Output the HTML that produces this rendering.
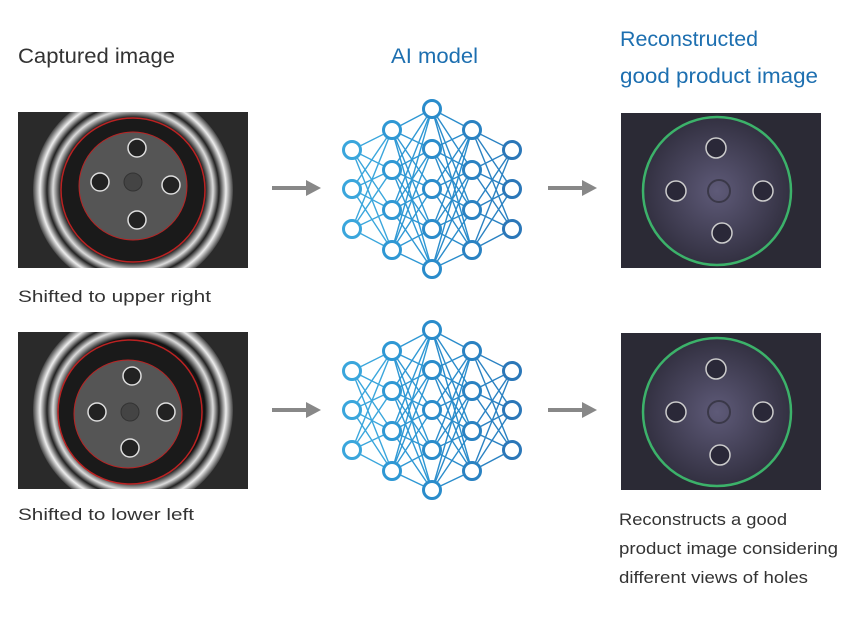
<!DOCTYPE html>
<html><head><meta charset="utf-8"><style>
html,body{margin:0;padding:0;background:#fff;width:866px;height:626px;overflow:hidden}
text{font-family:"Liberation Sans",sans-serif}
</style></head><body>
<svg id="s" width="866" height="626" viewBox="0 0 866 626" xmlns="http://www.w3.org/2000/svg">
<defs>
<radialGradient id="lg" cx="50%" cy="50%" r="50%">
<stop offset="0" stop-color="#666"/><stop offset="0.6" stop-color="#333"/><stop offset="0.72" stop-color="#111"/><stop offset="0.8" stop-color="#ddd"/><stop offset="0.86" stop-color="#222"/><stop offset="0.93" stop-color="#eee"/><stop offset="1" stop-color="#444"/>
</radialGradient>
<radialGradient id="rg" cx="50%" cy="50%" r="60%">
<stop offset="0" stop-color="#5e5a78"/><stop offset="1" stop-color="#2a2836"/>
</radialGradient>
<clipPath id="c1"><rect x="18" y="112" width="230" height="156"/></clipPath>
<clipPath id="c2"><rect x="18" y="332" width="230" height="157"/></clipPath>
</defs>
<g font-size="21">
<text x="18" y="63" fill="#333" textLength="157" lengthAdjust="spacingAndGlyphs">Captured image</text>
<text x="391" y="63" fill="#1d6fb0" textLength="87" lengthAdjust="spacingAndGlyphs">AI model</text>
<text x="620" y="46" fill="#1d6fb0" textLength="138" lengthAdjust="spacingAndGlyphs">Reconstructed</text>
<text x="620" y="83" fill="#1d6fb0" textLength="198" lengthAdjust="spacingAndGlyphs">good product image</text>
</g>
<g font-size="17" fill="#333">
<text x="18" y="302" textLength="193" lengthAdjust="spacingAndGlyphs">Shifted to upper right</text>
<text x="18" y="520" textLength="176" lengthAdjust="spacingAndGlyphs">Shifted to lower left</text>
<text x="619" y="525" textLength="168" lengthAdjust="spacingAndGlyphs">Reconstructs a good</text>
<text x="619" y="554" textLength="219" lengthAdjust="spacingAndGlyphs">product image considering</text>
<text x="619" y="583" textLength="189" lengthAdjust="spacingAndGlyphs">different views of holes</text>
</g>
<g clip-path="url(#c1)">
<rect x="18" y="112" width="230" height="156" fill="#2a2a2a"/>
<circle cx="133" cy="190" r="100" fill="url(#lg)"/>
<circle cx="133" cy="190" r="72" fill="#1a1a1a" stroke="#b22" stroke-width="1.5"/>
<circle cx="133" cy="186" r="54" fill="#555" stroke="#b22" stroke-width="1"/>
<circle cx="137" cy="148" r="9" fill="#222" stroke="#ddd" stroke-width="1.5"/>
<circle cx="100" cy="182" r="9" fill="#222" stroke="#ddd" stroke-width="1.5"/>
<circle cx="171" cy="185" r="9" fill="#222" stroke="#ddd" stroke-width="1.5"/>
<circle cx="137" cy="220" r="9" fill="#222" stroke="#ddd" stroke-width="1.5"/>
<circle cx="133" cy="182" r="9" fill="#444" stroke="#333"/>
</g>
<g clip-path="url(#c2)">
<rect x="18" y="332" width="230" height="157" fill="#2a2a2a"/>
<circle cx="133" cy="410" r="100" fill="url(#lg)"/>
<circle cx="130" cy="412" r="72" fill="#1a1a1a" stroke="#b22" stroke-width="1.5"/>
<circle cx="128" cy="414" r="54" fill="#555" stroke="#b22" stroke-width="1"/>
<circle cx="132" cy="376" r="9" fill="#222" stroke="#ddd" stroke-width="1.5"/>
<circle cx="97" cy="412" r="9" fill="#222" stroke="#ddd" stroke-width="1.5"/>
<circle cx="166" cy="412" r="9" fill="#222" stroke="#ddd" stroke-width="1.5"/>
<circle cx="130" cy="448" r="9" fill="#222" stroke="#ddd" stroke-width="1.5"/>
<circle cx="130" cy="412" r="9" fill="#444" stroke="#333"/>
</g>
<g>
<rect x="621" y="113" width="200" height="155" fill="#2b2a35"/>
<circle cx="717" cy="191" r="74" fill="url(#rg)" stroke="#3cb26a" stroke-width="2.5"/>
<circle cx="716" cy="148" r="10" fill="#2a2838" stroke="#ccc" stroke-width="1.5"/>
<circle cx="676" cy="191" r="10" fill="#2a2838" stroke="#ccc" stroke-width="1.5"/>
<circle cx="763" cy="191" r="10" fill="#2a2838" stroke="#ccc" stroke-width="1.5"/>
<circle cx="722" cy="233" r="10" fill="#2a2838" stroke="#ccc" stroke-width="1.5"/>
<circle cx="719" cy="191" r="11" fill="none" stroke="#3a3848" stroke-width="2"/>
</g>
<g>
<rect x="621" y="333" width="200" height="157" fill="#2b2a35"/>
<circle cx="717" cy="412" r="74" fill="url(#rg)" stroke="#3cb26a" stroke-width="2.5"/>
<circle cx="716" cy="369" r="10" fill="#2a2838" stroke="#ccc" stroke-width="1.5"/>
<circle cx="676" cy="412" r="10" fill="#2a2838" stroke="#ccc" stroke-width="1.5"/>
<circle cx="763" cy="412" r="10" fill="#2a2838" stroke="#ccc" stroke-width="1.5"/>
<circle cx="720" cy="455" r="10" fill="#2a2838" stroke="#ccc" stroke-width="1.5"/>
<circle cx="719" cy="412" r="11" fill="none" stroke="#3a3848" stroke-width="2"/>
</g>
<g fill="#888">
<rect x="272" y="186" width="36" height="4"/><polygon points="306,180 321,188 306,196"/>
<rect x="548" y="186" width="36" height="4"/><polygon points="582,180 597,188 582,196"/>
<rect x="272" y="408" width="36" height="4"/><polygon points="306,402 321,410 306,418"/>
<rect x="548" y="408" width="36" height="4"/><polygon points="582,402 597,410 582,418"/>
</g>
<g id="nets"></g>
</svg>
<script>
var cols=[[352,[150,189,229]],[392,[130,170,210,250]],[432,[109,149,189,229,269]],[472,[130,170,210,250]],[512,[150,189,229]]];
var colors=["#3aa6dc","#2f98d4","#2a8ccb","#2a82c2","#2b77b8"];
var g=document.getElementById('nets'),h='';
[0,221].forEach(function(off){
 for(var c=0;c<4;c++){cols[c][1].forEach(function(y1){cols[c+1][1].forEach(function(y2){
  h+='<line x1="'+cols[c][0]+'" y1="'+(y1+off)+'" x2="'+cols[c+1][0]+'" y2="'+(y2+off)+'" stroke="'+colors[c]+'" stroke-width="1.4"/>';});});}
 cols.forEach(function(col,i){col[1].forEach(function(y){
  h+='<circle cx="'+col[0]+'" cy="'+(y+off)+'" r="8.5" fill="#fff" stroke="'+colors[i]+'" stroke-width="3"/>';});});
});
g.innerHTML=h;
</script>
</body></html>
